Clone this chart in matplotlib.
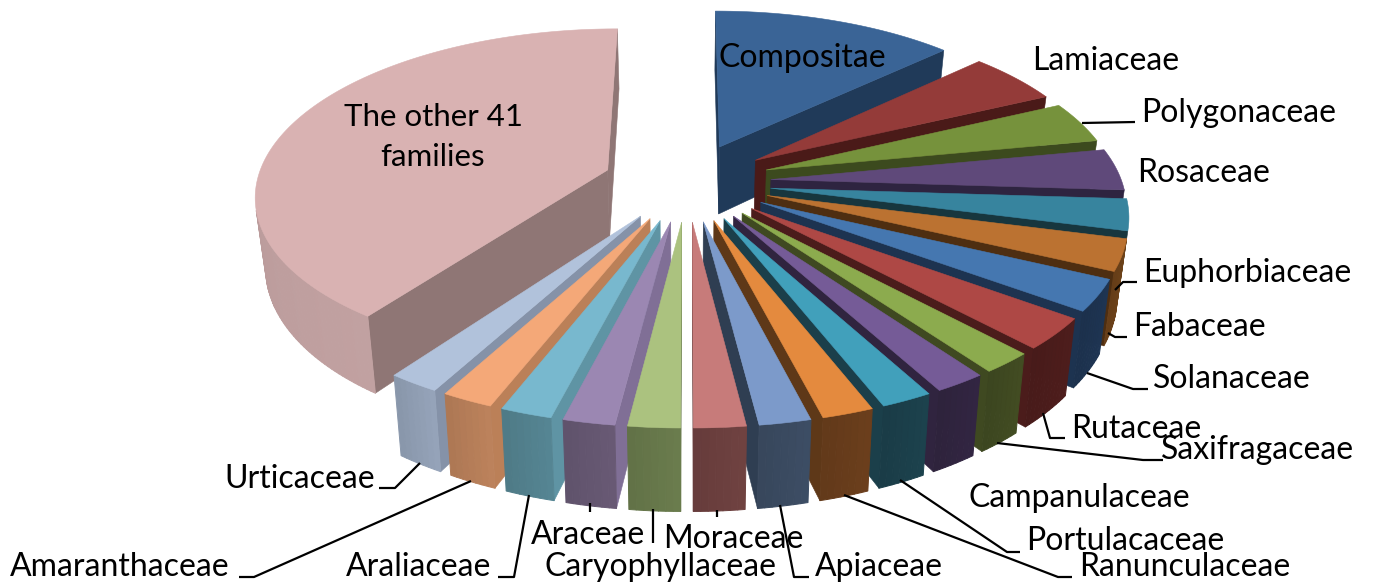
import numpy as np
import matplotlib
matplotlib.use("Agg")
import matplotlib.pyplot as plt
from matplotlib.colors import to_rgb
from matplotlib.patches import Polygon

# Share of each family, clockwise from twelve o'clock (percent)
families = ["Compositae", "Lamiaceae", "Polygonaceae", "Rosaceae", "Euphorbiaceae",
            "Fabaceae", "Solanaceae", "Rutaceae", "Saxifragaceae", "Campanulaceae",
            "Portulacaceae", "Ranunculaceae", "Apiaceae", "Moraceae", "Caryophyllaceae",
            "Araceae", "Araliaceae", "Amaranthaceae", "Urticaceae", "The other 41\nfamilies"]
shares = [13, 5, 4, 4, 3, 3, 3, 3, 2, 2, 2, 2, 2, 2, 2, 2, 2, 2, 2, 40]

top_colors = ["#3A6496", "#943B39", "#76923C", "#5F497A", "#37849E", "#BB7231",
              "#4577B0", "#AE4845", "#8CAB4E", "#755B97", "#41A0BB", "#E48A3E",
              "#7C9ACA", "#C77B7A", "#ABC27F", "#9B87B2", "#78B8CE", "#F4A878",
              "#B1C2DB", "#D9B2B2"]
rim_colors = ["#203A59", "#4A1A18", "#3C4A1E", "#2E2440", "#17363E", "#6B4119",
              "#1D3350", "#4B1C1B", "#3F4921", "#30243F", "#1B3F4A", "#673C1B",
              "#3A4A60", "#6B3F3E", "#66774A", "#645670", "#52808D", "#B57D58",
              "#8F9DB2", "#B39595"]
side_colors = ["#203A59", "#4A1A18", "#3C4A1E", "#2E2440", "#17363E", "#4E2E11",
               "#1D3350", "#4B1C1B", "#3F4921", "#30243F", "#1B3F4A", "#5E3818",
               "#2F3E52", "#6B3F3E", "#66774A", "#806F96", "#5F94A4", "#BB8058",
               "#8592A8", "#8F7675"]

# Label placement: left edge and vertical centre
label_xy = [(719, 58), (1032, 61), (1141, 113), (1137, 173), (1143, 273), (1133, 327),
            (1153, 379), (1071, 429), (1161, 450), (969, 498), (1026, 541), (1079, 567),
            (815, 567), (663, 539), (545, 567), (531, 535), (346, 567), (10, 567),
            (224, 479), (343, 137)]

leaders = [
    [(1082, 123), (1135, 122)],
    [(1115, 290), (1123, 282), (1137, 282)],
    [(1108, 333), (1115, 337), (1127, 337)],
    [(1087, 373), (1133, 389), (1148, 389)],
    [(1043, 413), (1050, 438), (1065, 438)],
    [(997, 443), (1143, 460), (1163, 460)],
    [(900, 480), (1007, 552), (1020, 552)],
    [(844, 495), (1058, 577), (1072, 577)],
    [(780, 505), (794, 577), (809, 577)],
    [(717, 510), (717, 517)],
    [(653, 509), (653, 543)],
    [(590, 503), (590, 512)],
    [(529, 495), (514, 577), (498, 577)],
    [(471, 481), (254, 577), (239, 577)],
    [(420, 463), (395, 488), (379, 488)],
]

# Projection of the tilted pie
CX, CY = 687.0, 182.0
AX, AY = 351.0, 164.0
PERSP = 0.14
DEPTH = 69.0
BASE_SHRINK = 0.976
EXPLODE = 0.24


def project(px, py):
    s = 1.0 / (1.0 + PERSP * py)
    return CX + AX * px * s, CY - AY * py * s, s


def top_and_base(px, py):
    x, y, s = project(px, py)
    return (x, y), (CX + (x - CX) * BASE_SHRINK, y + DEPTH * s)


def shade(color, factor):
    return tuple(min(1.0, c * factor) for c in to_rgb(color))


def area(pts):
    p = np.array(pts)
    return 0.5 * np.sum(p[:, 0] * np.roll(p[:, 1], -1) - np.roll(p[:, 0], -1) * p[:, 1])


plt.rcParams["font.family"] = ["Lato", "DejaVu Sans"]
fig = plt.figure(figsize=(13.73, 5.86), dpi=100, facecolor="white")
ax = fig.add_axes([0, 0, 1, 1])
ax.set_xlim(0, 1373)
ax.set_ylim(586, 0)
ax.axis("off")

edges = np.cumsum([0] + shares) / sum(shares) * 2 * np.pi
mids = 0.5 * (edges[:-1] + edges[1:])


def face(pts, color, z, lw=0.4):
    ax.add_patch(Polygon(pts, closed=True, facecolor=color, edgecolor=color,
                         linewidth=lw, joinstyle="round", zorder=z))


# Paint from the back of the pie towards the viewer
for rank, i in enumerate(np.argsort(-np.cos(mids))):
    ox, oy = EXPLODE * np.sin(mids[i]), EXPLODE * np.cos(mids[i])
    th = np.linspace(edges[i], edges[i + 1], max(8, int(shares[i] * 4)))
    tip_top, tip_base = top_and_base(ox, oy)
    rim = [top_and_base(ox + np.sin(t), oy + np.cos(t)) for t in th]
    rim_top = [r[0] for r in rim]
    rim_base = [r[1] for r in rim]
    z = 2 + rank

    # Radial cut faces: keep only those turned to the viewer
    start = [tip_top, rim_top[0], rim_base[0], tip_base]
    end = [tip_top, tip_base, rim_base[-1], rim_top[-1]]
    for wall in (start, end):
        if area(wall) < 0:
            face(wall, side_colors[i], z)

    # Curved outer wall: bands of slightly varying shade, overlapped to hide seams
    segs = [(k, [rim_top[k], rim_top[k + 1], rim_base[k + 1], rim_base[k]])
            for k in range(len(th) - 1)]
    for k, s in segs:
        if area(s) < 0:
            t = k / max(1, len(th) - 2)
            f = (1.04 - 0.08 * t) if i < 19 else (1.08 - 0.12 * t)
            face(s, shade(rim_colors[i], f), z, lw=0.7)

    face([tip_top] + rim_top, top_colors[i], z)

for path in leaders:
    xs, ys = zip(*path)
    ax.plot(xs, ys, color="black", lw=1.6, solid_capstyle="butt", zorder=40)

for name, (x, y) in zip(families, label_xy):
    if "\n" in name:
        ax.text(433, y, name, ha="center", va="center", fontsize=22.5, linespacing=1.55,
                color="black", zorder=50)
    else:
        ax.text(x, y, name, ha="left", va="center", fontsize=23, color="black", zorder=50)

fig.savefig("out.png", dpi=100, facecolor="white")
